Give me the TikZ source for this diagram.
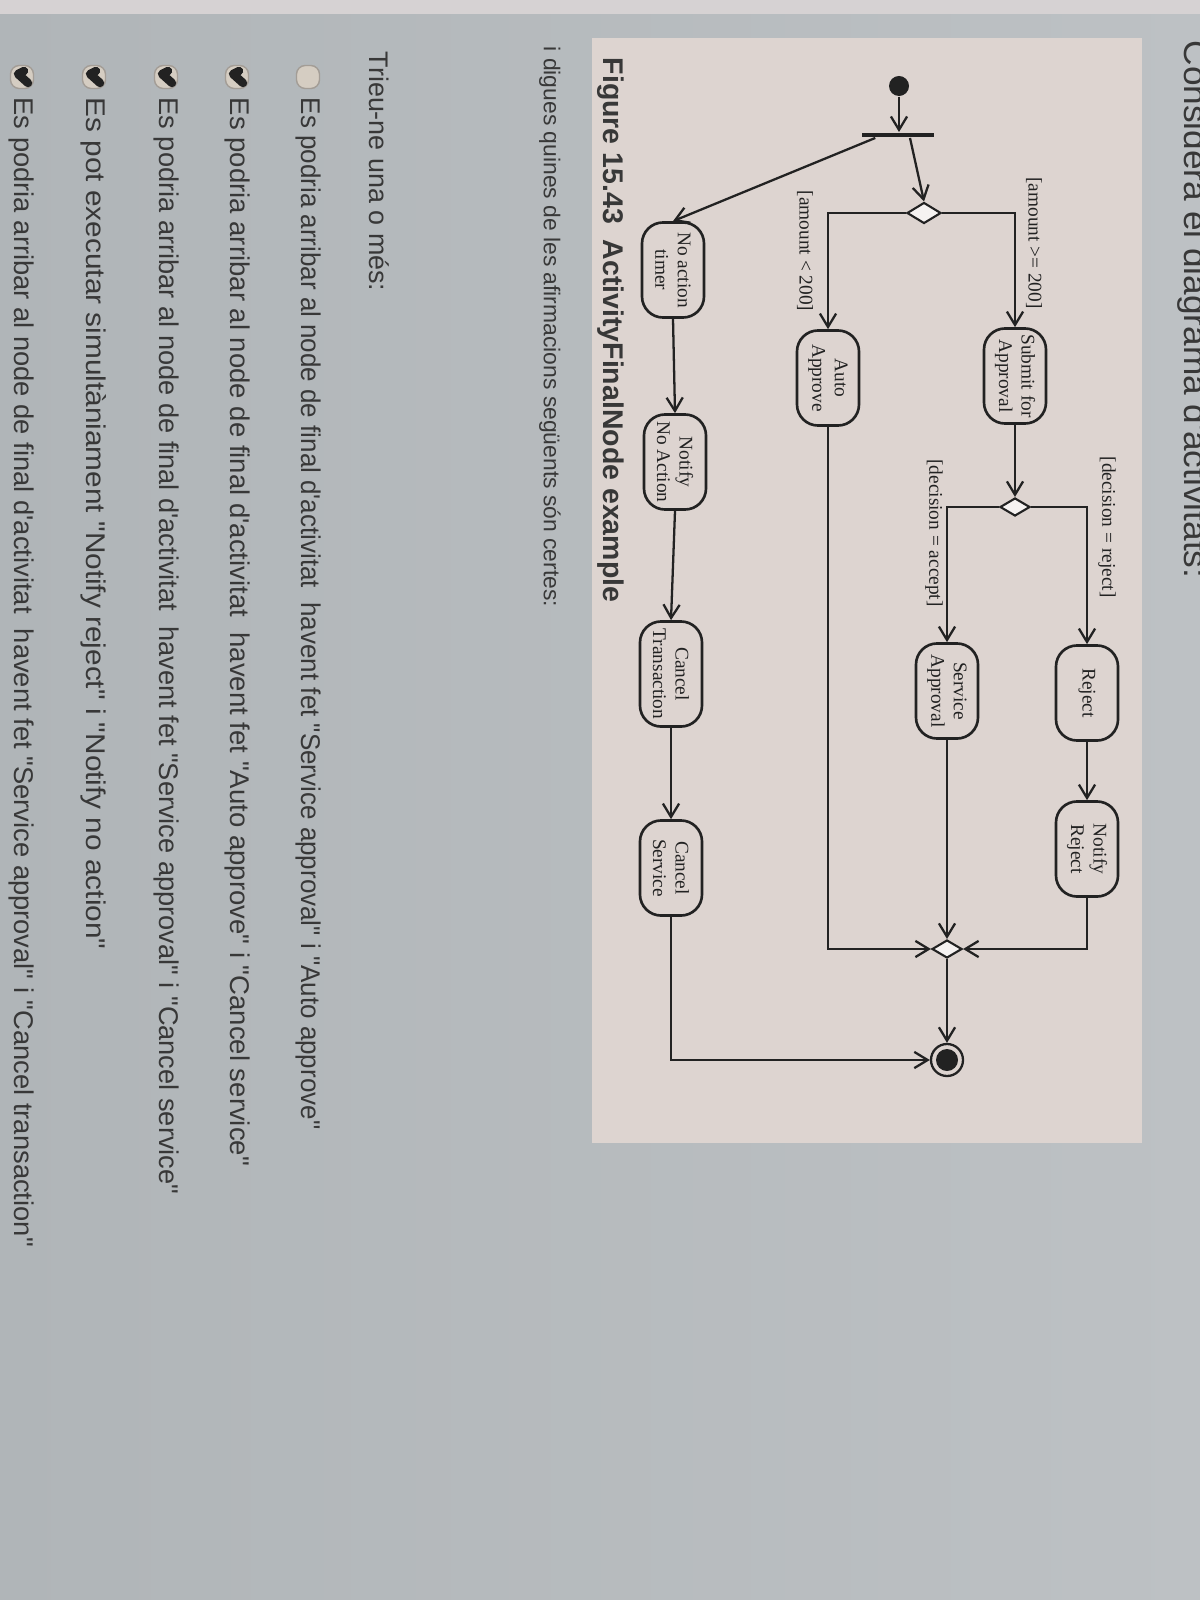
\documentclass[tikz,border=0pt]{standalone}
\usepackage{graphicx}
\usepackage{fontspec}
\setmainfont{Liberation Serif}
\newfontfamily\uifont{Liberation Sans}[Ligatures=TeXOff]
\usetikzlibrary{shapes.geometric,arrows.meta,positioning,calc}

\definecolor{screen}{HTML}{BDC1C4}
\definecolor{screendark}{HTML}{B0B5B8}
\definecolor{strip}{HTML}{D6D2D3}
\definecolor{paper}{HTML}{DDD4D0}
\definecolor{ink}{HTML}{222222}
\definecolor{boxfill}{HTML}{D5CDC2}
\definecolor{boxline}{HTML}{A39D96}

\tikzset{
  activity/.style={draw=ink, line width=0.75pt, rounded corners=6pt, rotate=-90,
    minimum width=0.95cm, minimum height=0.62cm, inner sep=1pt, align=center,
    font=\fontsize{5.5}{6.4}\selectfont, text=ink},
  guard/.style={rotate=-90, inner sep=1pt, font=\fontsize{5.5}{6.4}\selectfont, text=ink},
  choice/.style={diamond, draw=ink, line width=0.6pt, fill=paper!30!white,
    inner sep=0pt, minimum width=0.3cm, minimum height=0.18cm},
  flow/.style={draw=ink, line width=0.65pt, -{Straight Barb[length=3.8pt,width=4.6pt]}},
  uitext/.style={rotate=-90, anchor=west, inner sep=0pt, text=ink!90,
    font=\uifont\fontsize{7.7}{9}\selectfont},
  tickbox/.style={draw=boxline, fill=boxfill, rounded corners=2.5pt, line width=0.4pt,
    minimum size=0.23cm, inner sep=0pt},
  tickmark/.style={draw=ink, line width=2.4pt, line cap=round, line join=round}
}

\begin{document}
\begin{tikzpicture}[x=0.01cm, y=-0.01cm]
\useasboundingbox (0,0) rectangle (1200,1600);
% screen and figure panel
\shade[left color=screendark, right color=screen] (0,0) rectangle (1200,1600);
\fill[strip] (0,0) rectangle (1200,14);
\fill[paper] (592,38) rectangle (1142,1143);

% question texts
\node[uitext, anchor=base west, font=\uifont\fontsize{9.5}{11}\selectfont] (intro) at (1184,40)
  {\scalebox{1.055}[1]{Considera el diagrama d'activitats:}};
\node[uitext, font=\uifont\bfseries\fontsize{8.1}{9.5}\selectfont] (caption) at (611,57)
  {Figure 15.43~ ActivityFinalNode example};
\node[uitext, font=\uifont\fontsize{6.5}{8}\selectfont] (ask) at (550,46)
  {i digues quines de les afirmacions següents són certes:};
\node[uitext, font=\uifont\fontsize{7.65}{9}\selectfont] (pick) at (379,51) {Trieu-ne una o més:};

% answers
\node[tickbox] (box1) at (308,77) {};
\node[tickbox] (box2) at (237,77) {};
\node[tickbox] (box3) at (166,77) {};
\node[tickbox] (box4) at (94,77) {};
\node[tickbox] (box5) at (22,77) {};
\foreach \b in {box2,box3,box4,box5}
  \draw[tickmark] ($(\b)+(2,-6)$) -- ++(-6,3) -- ++(10,9);
\node[uitext] (ans1) at (308,97) {\scalebox{0.96}[1]{Es podria arribar al node de final d'activitat~ havent fet "Service approval" i "Auto approve"}};
\node[uitext] (ans2) at (237,97) {\scalebox{1.017}[1]{Es podria arribar al node de final d'activitat~ havent fet "Auto approve" i "Cancel service"}};
\node[uitext] (ans3) at (166,97) {\scalebox{1.005}[1]{Es podria arribar al node de final d'activitat~ havent fet "Service approval" i "Cancel service"}};
\node[uitext] (ans4) at (94,97) {\scalebox{1.1}[1]{Es pot executar simultàniament "Notify reject" i "Notify no action"}};
\node[uitext] (ans5) at (22,97) {\scalebox{1.01}[1]{Es podria arribar al node de final d'activitat~ havent fet "Service approval" i "Cancel transaction"}};

% activity diagram (rotated: west = top of page, east = bottom)
\node[circle, fill=ink, minimum size=0.2cm, inner sep=0pt] (start) at (899,86) {};
\node[fill=ink, minimum width=0.72cm, minimum height=0.045cm, inner sep=0pt] (fork) at (898,135) {};
\node[choice, minimum width=0.34cm, minimum height=0.21cm] (dec1) at (924,213) {};
\node[activity] (submit) at (1015,376) {Submit for\\Approval};
\node[activity] (auto) at (828,378) {Auto\\Approve};
\node[activity] (timer) at (673,270) {No action\\timer};
\node[activity] (notifyna) at (675,462) {Notify\\No Action};
\node[choice] (dec2) at (1015,507) {};
\node[activity] (service) at (947,691) {Service\\Approval};
\node[activity] (reject) at (1087,693) {Reject};
\node[activity] (notifyrej) at (1087,849) {Notify\\Reject};
\node[activity, minimum width=1.05cm] (canceltx) at (671,674) {Cancel\\Transaction};
\node[activity] (cancelsvc) at (671,868) {Cancel\\Service};
\node[choice] (dec3) at (947,949) {};
\node[circle, draw=ink, line width=0.65pt, minimum size=0.32cm, inner sep=0pt] (final) at (947,1060) {};
\node[circle, fill=ink, minimum size=0.22cm, inner sep=0pt] (finaldot) at (final) {};

% guards
\node[guard] (g200a) at (1034,243) {[amount >= 200]};
\node[guard] (g200b) at (805,251) {[amount < 200]};
\node[guard] (grej) at (1107,527) {[decision = reject]};
\node[guard] (gacc) at (934,533) {[decision = accept]};

% flows
\draw[flow] (start) -- (start |- fork.north);
\draw[flow] ($(fork.south)+(12,0)$) -- (dec1.north);
\draw[flow] ($(fork.south west)+(14,0)$) -- (timer.west);
\draw[flow] (dec1.west) -| (auto.west);
\draw[flow] (dec1.east) -| (submit.west);
\draw[flow] (submit.east) -- (dec2.north);
\draw[flow] (dec2.west) -| (service.west);
\draw[flow] (dec2.east) -| (reject.west);
\draw[flow] (reject.east) -- (notifyrej.west);
\draw[flow] (timer.east) -- (notifyna.west);
\draw[flow] (notifyna.east) -- (canceltx.west);
\draw[flow] (canceltx.east) -- (cancelsvc.west);
\draw[flow] (service.east) -- (dec3.north);
\draw[flow] (auto.east) |- (dec3.west);
\draw[flow] (notifyrej.east) |- (dec3.east);
\draw[flow] (dec3.south) -- (final.north);
\draw[flow] (cancelsvc.east) |- (final.west);
\end{tikzpicture}
\end{document}
